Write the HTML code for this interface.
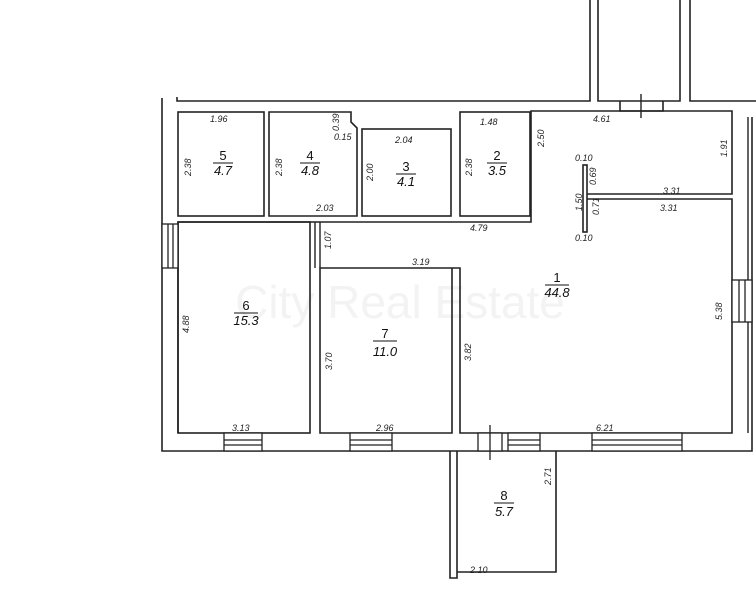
<!DOCTYPE html>
<html><head><style>
html,body{margin:0;padding:0;background:#fff;}
svg{display:block;font-family:"Liberation Sans",sans-serif;}
.w{fill:none;stroke:#222;stroke-width:1.6}
.t{font-size:9px;font-style:italic;fill:#222}
.n{font-size:13px;fill:#111;text-anchor:middle}
.a{font-size:13px;font-style:italic;fill:#111;text-anchor:middle}
</style></head><body>
<svg width="756" height="604" viewBox="0 0 756 604">
<text x="400" y="318" font-size="46" fill="#f3f3f3" text-anchor="middle">City Real Estate</text>
<polyline class="w" points="177,97 177,101 590,101 590,0"/>
<polyline class="w" points="598,0 598,101 680,101 680,0"/>
<polyline class="w" points="690,0 690,101 756,101"/>
<polyline class="w" points="620,101 620,111 663,111 663,101"/>
<line x1="641" y1="94" x2="641" y2="118" stroke="#222" stroke-width="1.4"/>
<polyline class="w" points="162,98 162,451 752,451 752,117"/>
<line x1="748" y1="117" x2="748" y2="433" stroke="#222" stroke-width="1.4"/>
<rect class="w" x="178" y="112" width="86" height="104"/>
<polygon class="w" points="269,112 351,112 351,122 357,128 357,216 269,216"/>
<rect class="w" x="362" y="129" width="89" height="87"/>
<rect class="w" x="460" y="112" width="70" height="104"/>
<polyline class="w" points="178,433 178,222 531,222 531,111 732,111 732,194 587,194"/>
<polyline class="w" points="587,199 732,199 732,433 460,433 460,268 320,268 320,433 452,433 452,268"/>
<rect class="w" x="178" y="222" width="132" height="211"/>
<line x1="315" y1="222" x2="315" y2="268" stroke="#222" stroke-width="1.4"/>
<line x1="320" y1="222" x2="320" y2="268" stroke="#222" stroke-width="1.4"/>
<rect class="w" x="583" y="165" width="4" height="67"/>
<g stroke="#222" stroke-width="1.3" fill="#fff">
<rect x="224" y="433" width="38" height="18"/><line x1="224" y1="440" x2="262" y2="440"/><line x1="224" y1="445" x2="262" y2="445"/>
<rect x="350" y="433" width="42" height="18"/><line x1="350" y1="440" x2="392" y2="440"/><line x1="350" y1="445" x2="392" y2="445"/>
<rect x="508" y="433" width="32" height="18"/><line x1="508" y1="440" x2="540" y2="440"/><line x1="508" y1="445" x2="540" y2="445"/>
<rect x="592" y="433" width="90" height="18"/><line x1="592" y1="440" x2="682" y2="440"/><line x1="592" y1="445" x2="682" y2="445"/>
<rect x="162" y="224" width="16" height="44"/><line x1="168" y1="224" x2="168" y2="268"/><line x1="173" y1="224" x2="173" y2="268"/>
<rect x="732" y="280" width="20" height="42"/><line x1="739" y1="280" x2="739" y2="322"/><line x1="745" y1="280" x2="745" y2="322"/>
<rect x="478" y="433" width="24" height="18"/>
</g>
<line x1="490" y1="425" x2="490" y2="460" stroke="#222" stroke-width="1.3"/>
<polyline class="w" points="450,451 450,578 457,578 457,451"/>
<polyline class="w" points="457,572 556,572 556,451"/>
<g>
<text class="n" x="223" y="160">5</text><line x1="213" y1="163" x2="233" y2="163" stroke="#111"/><text class="a" x="223" y="175">4.7</text>
<text class="n" x="310" y="160">4</text><line x1="300" y1="163" x2="320" y2="163" stroke="#111"/><text class="a" x="310" y="175">4.8</text>
<text class="n" x="406" y="171">3</text><line x1="396" y1="174" x2="416" y2="174" stroke="#111"/><text class="a" x="406" y="186">4.1</text>
<text class="n" x="497" y="160">2</text><line x1="487" y1="163" x2="507" y2="163" stroke="#111"/><text class="a" x="497" y="175">3.5</text>
<text class="n" x="557" y="282">1</text><line x1="545" y1="285" x2="569" y2="285" stroke="#111"/><text class="a" x="557" y="297">44.8</text>
<text class="n" x="246" y="310">6</text><line x1="234" y1="313" x2="258" y2="313" stroke="#111"/><text class="a" x="246" y="325">15.3</text>
<text class="n" x="385" y="338">7</text><line x1="373" y1="341" x2="397" y2="341" stroke="#111"/><text class="a" x="385" y="356">11.0</text>
<text class="n" x="504" y="500">8</text><line x1="494" y1="503" x2="514" y2="503" stroke="#111"/><text class="a" x="504" y="516">5.7</text>
</g>
<g class="t">
<text x="210" y="122">1.96</text>
<text x="334" y="140">0.15</text>
<text x="395" y="143">2.04</text>
<text x="480" y="125">1.48</text>
<text x="593" y="122">4.61</text>
<text x="316" y="211">2.03</text>
<text x="470" y="231">4.79</text>
<text x="412" y="265">3.19</text>
<text x="663" y="194">3.31</text>
<text x="660" y="211">3.31</text>
<text x="575" y="161">0.10</text>
<text x="575" y="241">0.10</text>
<text x="232" y="431">3.13</text>
<text x="376" y="431">2.96</text>
<text x="596" y="431">6.21</text>
<text x="470" y="573">2.10</text>
<g transform="rotate(-90)">
<text x="-176" y="191">2.38</text>
<text x="-176" y="282">2.38</text>
<text x="-131" y="339">0.39</text>
<text x="-181" y="373">2.00</text>
<text x="-176" y="472">2.38</text>
<text x="-147" y="544">2.50</text>
<text x="-157" y="727">1.91</text>
<text x="-185" y="596">0.69</text>
<text x="-211" y="582">1.50</text>
<text x="-215" y="599">0.71</text>
<text x="-249" y="331">1.07</text>
<text x="-333" y="189">4.88</text>
<text x="-370" y="332">3.70</text>
<text x="-361" y="471">3.82</text>
<text x="-320" y="722">5.38</text>
<text x="-485" y="551">2.71</text>
</g>
</g>
</svg>
</body></html>
